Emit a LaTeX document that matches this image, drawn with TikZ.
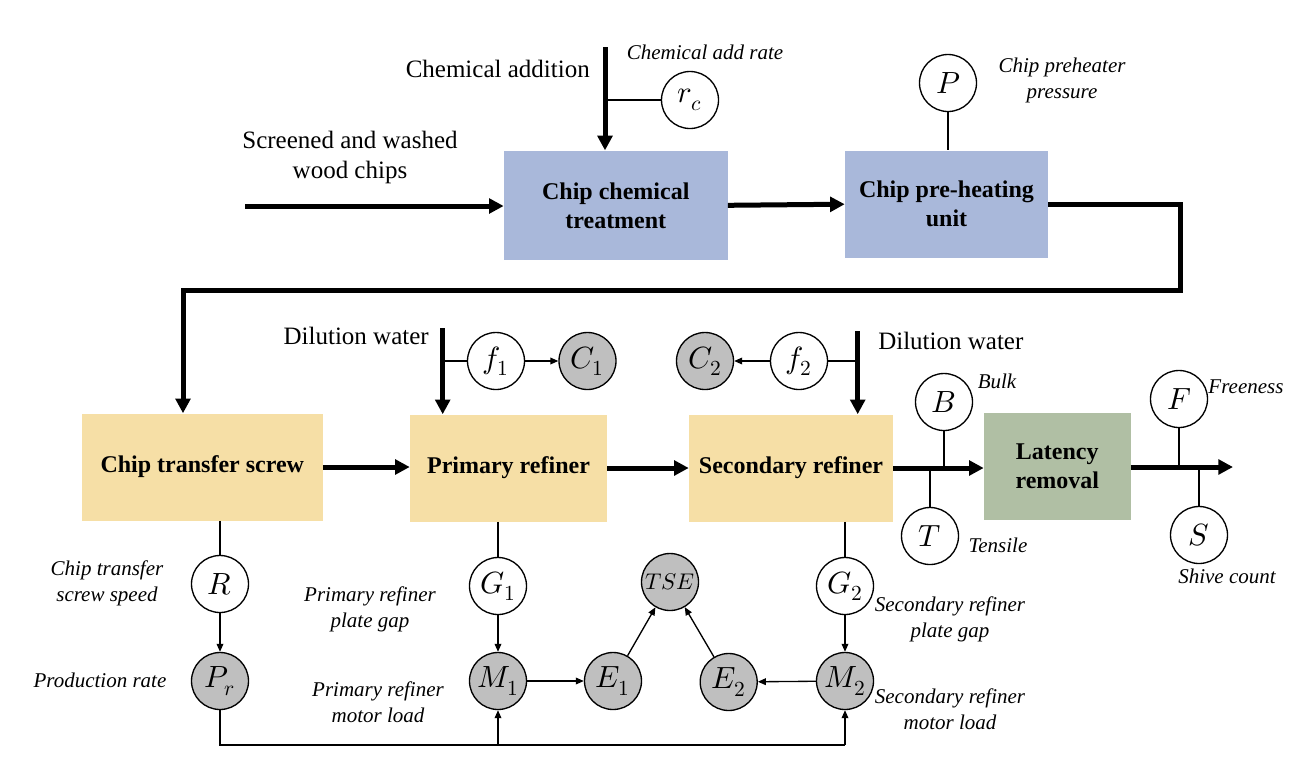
\documentclass[tikz,border=0pt]{standalone}
\usepackage{fontspec}
\usepackage{unicode-math}
\setmainfont{Liberation Serif}
\setmathfont{Latin Modern Math}
\usetikzlibrary{arrows.meta,calc}
\definecolor{boxblue}{RGB}{169,184,218}
\definecolor{boxyellow}{RGB}{246,223,166}
\definecolor{boxgreen}{RGB}{176,191,164}
\definecolor{nodegray}{RGB}{191,191,191}
\newcommand\vsz{\fontsize{23}{25}\selectfont}
\begin{document}
\begin{tikzpicture}[x=0.75pt,y=-0.75pt,
 procbox/.style={rectangle, inner sep=0pt, align=center, font=\fontsize{18}{21.75}\selectfont\bfseries},
 var/.style={circle, draw, line width=1pt, minimum size=42.75pt, inner sep=0pt, fill=white},
 obs/.style={var, fill=nodegray},
 lbl/.style={font=\fontsize{18.75}{22.5}\selectfont, align=center, inner sep=0pt},
 ital/.style={font=\fontsize{15.75}{19.5}\selectfont\itshape, align=center, inner sep=0pt},
 flow/.style={line width=3.75pt, -{Triangle[length=11pt,width=11pt]}},
 thinline/.style={line width=1pt},
 thinarrow/.style={line width=1pt, -{Triangle[length=6pt,width=5pt]}},
]
\useasboundingbox (0,0) rectangle (1314,776);

% process boxes
\node[procbox, fill=boxblue, minimum width=167.8pt, minimum height=82pt] (chem) at (615.8,205.3) {Chip chemical\\treatment};
\node[procbox, fill=boxblue, minimum width=152.25pt, minimum height=80.25pt] (pre) at (946.5,204.2) {Chip pre-heating\\unit};
\node[procbox, fill=boxyellow, minimum width=180.5pt, minimum height=80.25pt] (screw) at (202.3,467) {Chip transfer screw};
\node[procbox, fill=boxyellow, minimum width=147.75pt, minimum height=80.25pt] (prim) at (508.5,468) {Primary refiner};
\node[procbox, fill=boxyellow, minimum width=153pt, minimum height=80.25pt] (sec) at (791,468) {Secondary refiner};
\node[procbox, fill=boxgreen, minimum width=110pt, minimum height=80.25pt] (lat) at (1057.3,466.5) {Latency\\removal};

% variable nodes
\node[var] (rc) at (690,100) {\vsz$r_c$};
\node[var] (P) at (948,83) {\vsz$P$};
\node[var] (f1) at (496,361) {\vsz$f_1$};
\node[obs] (C1) at (587.5,361) {\vsz$C_1$};
\node[var] (f2) at (799,361) {\vsz$f_2$};
\node[obs] (C2) at (705,361) {\vsz$C_2$};
\node[var] (B) at (944,402) {\vsz$B$};
\node[var] (T) at (930,536) {\vsz$T$};
\node[var] (F) at (1179,399) {\vsz$F$};
\node[var] (S) at (1199,535) {\vsz$S$};
\node[var] (R) at (220,584) {\vsz$R$};
\node[obs] (Pr) at (220,681) {\vsz$P_r$};
\node[var] (G1) at (498,586) {\vsz$G_1$};
\node[obs] (M1) at (498,681) {\vsz$M_1$};
\node[obs] (E1) at (613,681) {\vsz$E_1$};
\node[obs] (TSE) at (670,582) {\fontsize{17}{19}\selectfont$TSE$};
\node[obs] (E2) at (728.7,682) {\vsz$E_2$};
\node[var] (G2) at (845,586) {\vsz$G_2$};
\node[obs] (M2) at (845,681) {\vsz$M_2$};

% labels
\node[lbl, anchor=east] (tchem) at (590,69) {Chemical addition};
\node[lbl] (tscreen) at (350,157) {Screened and washed\\wood chips};
\node[ital] (trc) at (705,52) {Chemical add rate};
\node[ital] (tP) at (1062,80) {Chip preheater\\pressure};
\node[lbl, anchor=east] (tdw1) at (429,336) {Dilution water};
\node[lbl, anchor=west] (tdw2) at (878,341) {Dilution water};
\node[ital] (tB) at (997,381) {Bulk};
\node[ital] (tT) at (998,545) {Tensile};
\node[ital] (tF) at (1246,387) {Freeness};
\node[ital] (tS) at (1227,576) {Shive count};
\node[ital] (tR) at (107,583) {Chip transfer\\screw speed};
\node[ital] (tPr) at (100,680) {Production rate};
\node[ital] (tG1) at (370,609) {Primary refiner\\plate gap};
\node[ital] (tM1) at (378,702) {Primary refiner\\motor load};
\node[ital] (tG2) at (950,619) {Secondary refiner\\plate gap};
\node[ital] (tM2) at (950,709) {Secondary refiner\\motor load};

% coordinates
\coordinate (inL) at (245,206);
\coordinate (chemTop) at (605,47);
\coordinate (loopR) at (1180,290);
\coordinate (loopL) at (183,290);
\coordinate (dw1) at (442.7,328);
\coordinate (dw2) at (857.7,331);
\coordinate (out) at (1233,467);
\coordinate (bl) at (220,745);

% main flow
\draw[flow] (inL) -- (inL -| chem.west);
\draw[flow] (chemTop) -- (chemTop |- chem.north);
\draw[thinline] (chemTop |- rc) -- (rc.west);
\draw[flow] (chem.east) -- (pre.west);
\draw[thinline] (P.south) -- (P.south |- pre.north);
\draw[flow, line join=miter] (pre.east) -| (loopR) -- (loopL) -- (loopL |- screw.north);
\draw[flow] (screw.east) -- (screw.east -| prim.west);
\draw[flow] (prim.east) -- (sec.west);
\draw[flow] (sec.east) -- (sec.east -| lat.west);
\draw[flow] (lat.east |- out) -- (out);
\draw[thinline] (B.south) -- (B.south |- sec.east);
\draw[thinline] (T.north) -- (T.north |- sec.east);
\draw[thinline] (F.south) -- (F.south |- out);
\draw[thinline] (S.north) -- (S.north |- out);

% dilution water
\draw[flow] (dw1) -- (dw1 |- prim.north);
\draw[thinline] (dw1 |- f1) -- (f1.west);
\draw[thinarrow] (f1) -- (C1);
\draw[flow] (dw2) -- (dw2 |- sec.north);
\draw[thinline] (dw2 |- f2) -- (f2.east);
\draw[thinarrow] (f2) -- (C2);

% bottom
\draw[thinline] (screw.south -| R) -- (R.north);
\draw[thinarrow] (R) -- (Pr);
\draw[thinline] (prim.south -| G1) -- (G1.north);
\draw[thinarrow] (G1) -- (M1);
\draw[thinline] (sec.south -| G2) -- (G2.north);
\draw[thinarrow] (G2) -- (M2);
\draw[thinarrow] (M1) -- (E1);
\draw[thinarrow] (E1) -- (TSE);
\draw[thinarrow] (E2) -- (TSE);
\draw[thinarrow] (M2) -- (E2);
\draw[thinline] (Pr.south) -- (bl) -- (bl -| M2);
\draw[thinarrow] (bl -| M1) -- (M1.south);
\draw[thinarrow] (bl -| M2) -- (M2.south);
\end{tikzpicture}
\end{document}
